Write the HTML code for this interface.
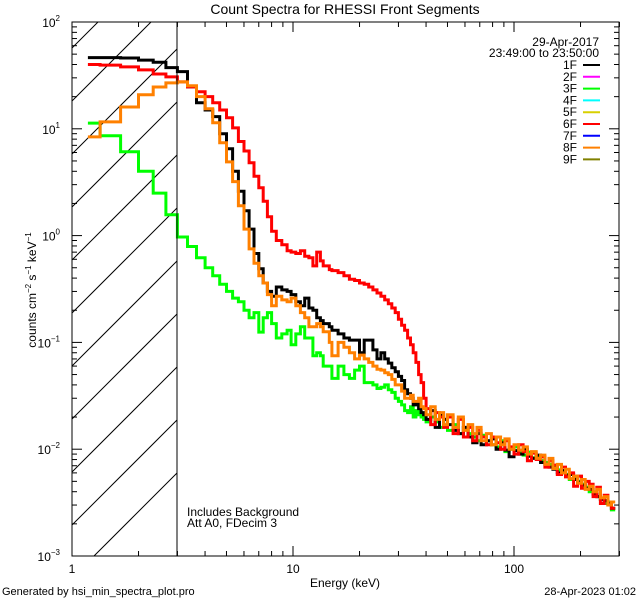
<!DOCTYPE html>
<html><head><meta charset="utf-8">
<style>
html,body{margin:0;padding:0;background:#fff;width:640px;height:600px;overflow:hidden;}
svg{display:block;font-family:"Liberation Sans",sans-serif;}
text{fill:#000;}
</style></head>
<body>
<svg id="chart" width="640" height="600" viewBox="0 0 640 600">
  <rect x="0" y="0" width="640" height="600" fill="#fff"/>
  <defs><clipPath id="plotclip"><rect x="72" y="22" width="547" height="534"/></clipPath></defs>
  <g id="hatch"></g>
  <g id="series" clip-path="url(#plotclip)"></g>
  <g id="axes"></g>
  <text x="345" y="14" font-size="14" text-anchor="middle">Count Spectra for RHESSI Front Segments</text>
  <text x="345" y="587" font-size="12" text-anchor="middle">Energy (keV)</text>
  <text transform="translate(36,290) rotate(-90)" font-size="12" text-anchor="middle">counts cm<tspan dy="-5" font-size="8">−2</tspan><tspan dy="5"> s</tspan><tspan dy="-5" font-size="8">−1</tspan><tspan dy="5"> keV</tspan><tspan dy="-5" font-size="8">−1</tspan></text>
  <text x="2" y="595" font-size="11">Generated by hsi_min_spectra_plot.pro</text>
  <text x="636" y="595" font-size="11" text-anchor="end">28-Apr-2023 01:02</text>
  <text x="187" y="516" font-size="12">Includes Background</text>
  <text x="187" y="527" font-size="12">Att A0, FDecim 3</text>
  <g id="legend">
    <text x="599" y="46" font-size="12" text-anchor="end">29-Apr-2017</text>
    <text x="599" y="57" font-size="12" text-anchor="end">23:49:00 to 23:50:00</text>
  </g>
</svg>
<script>
const edges = [1.18,1.34,1.66,2.0,2.33,2.66,3.0,3.33,3.66,4.0,4.33,4.66,5.0,5.33,5.66,6.0,6.33,6.66,7.0,7.33,7.66,8.0,8.4,8.9,9.4,9.8,10.3,10.8,11.3,11.8,12.3,12.8,13.3,13.7,14.6,15,16,17,18,19,20,21,22,23,24,25,26,27,28,29,30,31,32,33,34,35,36,37,38,39,40,42,44,46,48,50,53,56,59,62,65,68,71,75,79,83,87,91,95,100,105,110,115,120,126,132,138,144,150,157,164,171,178,186,194,202,210,219,228,237,246,256,266,276,287,298];
const black = [46.4,46.4,46,44,42,37.4,34.3,24.7,17.5,15,13,9,6.5,4.0,2.6,1.71,1.15,0.68,0.49,0.36,0.3,0.27,0.33,0.31,0.3,0.28,0.24,0.22,0.26,0.21,0.2,0.17,0.16,0.15,0.14,0.13,0.12,0.11,0.105,0.105,0.08,0.105,0.105,0.085,0.07,0.08,0.07,0.064,0.058,0.053,0.048,0.044,0.036,0.033,0.03,0.026,0.027,0.024,0.022,
0.021,0.019,0.023,0.016,0.021,0.019,0.017,0.015,0.014,0.016,0.013,0.0115,0.014,0.011,0.012,0.0125,0.01,0.0115,0.0098,0.0085,0.0097,0.009,0.01,0.0086,0.0082,0.0088,0.0075,0.0072,0.0068,0.0065,0.006,0.0063,0.0057,0.0058,0.0052,0.0049,0.0046,0.0043,0.0042,0.0038,0.0036,0.0034,0.0033,0.0031,0.0028];
const green = [11.3,8.6,6.1,4.0,2.5,1.57,0.97,0.79,0.62,0.5,0.42,0.35,0.3,0.26,0.24,0.2,0.17,0.19,0.125,0.17,0.19,0.15,0.11,0.12,0.13,0.095,0.12,0.14,0.11,0.11,0.075,0.08,0.075,0.06,0.06,0.046,0.06,0.05,0.046,0.055,0.06,0.042,0.042,0.04,0.037,0.038,0.04,0.036,0.034,0.03,0.028,0.026,0.023,0.022,0.025,0.02,0.023,0.021,0.02,
0.019,0.018,0.02,0.018,0.016,0.019,0.015,0.017,0.014,0.016,0.014,0.013,0.012,0.0135,0.012,0.011,0.0105,0.012,0.0095,0.01,0.0105,0.0092,0.0088,0.0094,0.0083,0.0086,0.0078,0.0075,0.0072,0.0069,0.0064,0.006,0.0058,0.0052,0.0054,0.005,0.0047,0.0044,0.004,0.0038,0.0036,0.0034,0.0031,0.0032,0.0027];
const red = [40,39.5,38,35.6,32.6,30.6,27.5,24.7,22.2,20,17.5,15,12.7,10.2,7.6,6.2,4.8,3.6,2.8,2.1,1.5,1.1,0.9,0.82,0.72,0.7,0.68,0.72,0.64,0.62,0.52,0.7,0.58,0.52,0.48,0.47,0.45,0.42,0.39,0.38,0.36,0.35,0.33,0.31,0.29,0.27,0.25,0.23,0.21,0.19,0.165,0.145,0.13,0.11,0.095,0.08,0.065,0.05,0.042,
0.03,0.024,0.017,0.022,0.02,0.016,0.02,0.014,0.019,0.013,0.016,0.012,0.015,0.013,0.011,0.013,0.0115,0.01,0.012,0.0105,0.009,0.011,0.0095,0.0078,0.0092,0.008,0.0085,0.0068,0.0078,0.0071,0.0058,0.0068,0.0055,0.006,0.0045,0.0056,0.0043,0.005,0.0047,0.0036,0.0044,0.0031,0.0037,0.003,0.0028];
const orange = [8.4,11.6,16,20.8,24.6,26.9,27.5,25.3,20,15.4,11.4,7.4,4.9,3.2,1.9,1.15,0.75,0.55,0.42,0.36,0.28,0.22,0.27,0.25,0.24,0.26,0.22,0.19,0.17,0.14,0.14,0.15,0.14,0.126,0.1,0.075,0.1,0.09,0.08,0.07,0.076,0.07,0.065,0.06,0.056,0.055,0.052,0.05,0.045,0.04,0.04,0.035,0.03,0.03,0.032,0.028,0.028,0.03,0.025,
0.024,0.021,0.025,0.019,0.022,0.017,0.021,0.016,0.02,0.015,0.017,0.014,0.016,0.012,0.014,0.011,0.013,0.011,0.0125,0.01,0.011,0.0098,0.0105,0.009,0.0095,0.0082,0.0088,0.0072,0.0082,0.0066,0.0072,0.006,0.0065,0.0053,0.0056,0.0048,0.0052,0.0042,0.0045,0.004,0.0042,0.0035,0.0036,0.003,0.0032];
const legendLabels = ["1F","2F","3F","4F","5F","6F","7F","8F","9F"];
const legendColors = ["#000000","#ff00ff","#00ff00","#00ffff","#d8d000","#ff0000","#0000ff","#ff8000","#808000"];
const yDecades = [-3,-2,-1,0,1,2];
const xMajor = [1,10,100];
const xMinor = [2,3,4,5,6,7,8,9,20,30,40,50,60,70,80,90,200,300];

const NS = "http://www.w3.org/2000/svg";
const L = 72, R = 619, T = 22, B = 556;
function xs(e){ return L + 221 * Math.log10(e); }
function ys(v){ return B - 106.8 * (Math.log10(v) + 3); }
function mk(tag, attrs, parent){ const el = document.createElementNS(NS, tag); for (const k in attrs) el.setAttribute(k, attrs[k]); parent.appendChild(el); return el; }

// hatch lines y = c - (x - 72), clipped analytically to x in [72,177], y in [22,556]
const hatch = document.getElementById('hatch');
for (let k = -1; k < 12; k++) {
  const c = 525 - 53 * k;
  let xa = 72, xb = 177;
  xa = Math.max(xa, 72 + (c - B));
  xb = Math.min(xb, 72 + (c - T));
  if (xb <= xa) continue;
  const ln = mk('line', {x1: xa, y1: c - (xa - 72), x2: xb, y2: c - (xb - 72), stroke: '#000', 'stroke-width': 1}, hatch);
  
  
}

const seriesG = document.getElementById('series');
function drawSeries(vals, color, name){
  let d = '';
  const n = Math.min(vals.length, edges.length - 1);
  for (let i = 0; i < n; i++) {
    const x0 = xs(edges[i]).toFixed(1), x1 = xs(edges[i+1]).toFixed(1), y = Math.min(B, ys(vals[i])).toFixed(1);
    d += (i === 0 ? 'M' : 'L') + x0 + ',' + y + 'L' + x1 + ',' + y;
  }
  const p = mk('path', {d: d, fill: 'none', stroke: color, 'stroke-width': 3, 'stroke-linejoin': 'miter'}, seriesG);
  
  
}
drawSeries(green, '#00ff00', 'series-3f');
drawSeries(black, '#000000', 'series-1f');
drawSeries(red, '#ff0000', 'series-6f');
drawSeries(orange, '#ff8000', 'series-8f');

const axes = document.getElementById('axes');
const frame = mk('rect', {x: L, y: T, width: R - L, height: B - T, fill: 'none', stroke: '#000', 'stroke-width': 1}, axes);


const vline = mk('line', {x1: 177, y1: T, x2: 177, y2: B, stroke: '#000', 'stroke-width': 1}, axes);


function tick(x1, y1, x2, y2){ const t = mk('line', {x1, y1, x2, y2, stroke: '#000', 'stroke-width': 1}, axes);   }
xMajor.forEach(v => {
  const x = xs(v);
  tick(x, B, x, B - 10); tick(x, T, x, T + 10);
  const t = mk('text', {x: x, y: B + 17, 'font-size': 12, 'text-anchor': 'middle'}, axes);
  t.textContent = String(v);
  
  
});
xMinor.forEach(v => { const x = xs(v); tick(x, B, x, B - 5); tick(x, T, x, T + 5); });
yDecades.forEach(dec => {
  const y = ys(Math.pow(10, dec));
  tick(L, y, L + 10, y); tick(R, y, R - 10, y);
  const t = mk('text', {x: 60, y: y + 5, 'font-size': 12, 'text-anchor': 'end'}, axes);
  t.textContent = '10';
  const s = mk('tspan', {dy: -6, 'font-size': 8}, t);
  s.textContent = dec < 0 ? '−' + (-dec) : String(dec);
  
  
  if (dec < 2) for (let m = 2; m <= 9; m++) { const ym = ys(m * Math.pow(10, dec)); tick(L, ym, L + 5, ym); tick(R, ym, R - 5, ym); }
});

const legend = document.getElementById('legend');
legendLabels.forEach((lab, i) => {
  const y = 69 + i * 11.8;
  const t = mk('text', {x: 577, y: y, 'font-size': 12, 'text-anchor': 'end'}, legend);
  t.textContent = lab;
  
  
  const l = mk('line', {x1: 583, y1: y - 4, x2: 600, y2: y - 4, stroke: legendColors[i], 'stroke-width': 2}, legend);
  
  
});
</script>
</body></html>
